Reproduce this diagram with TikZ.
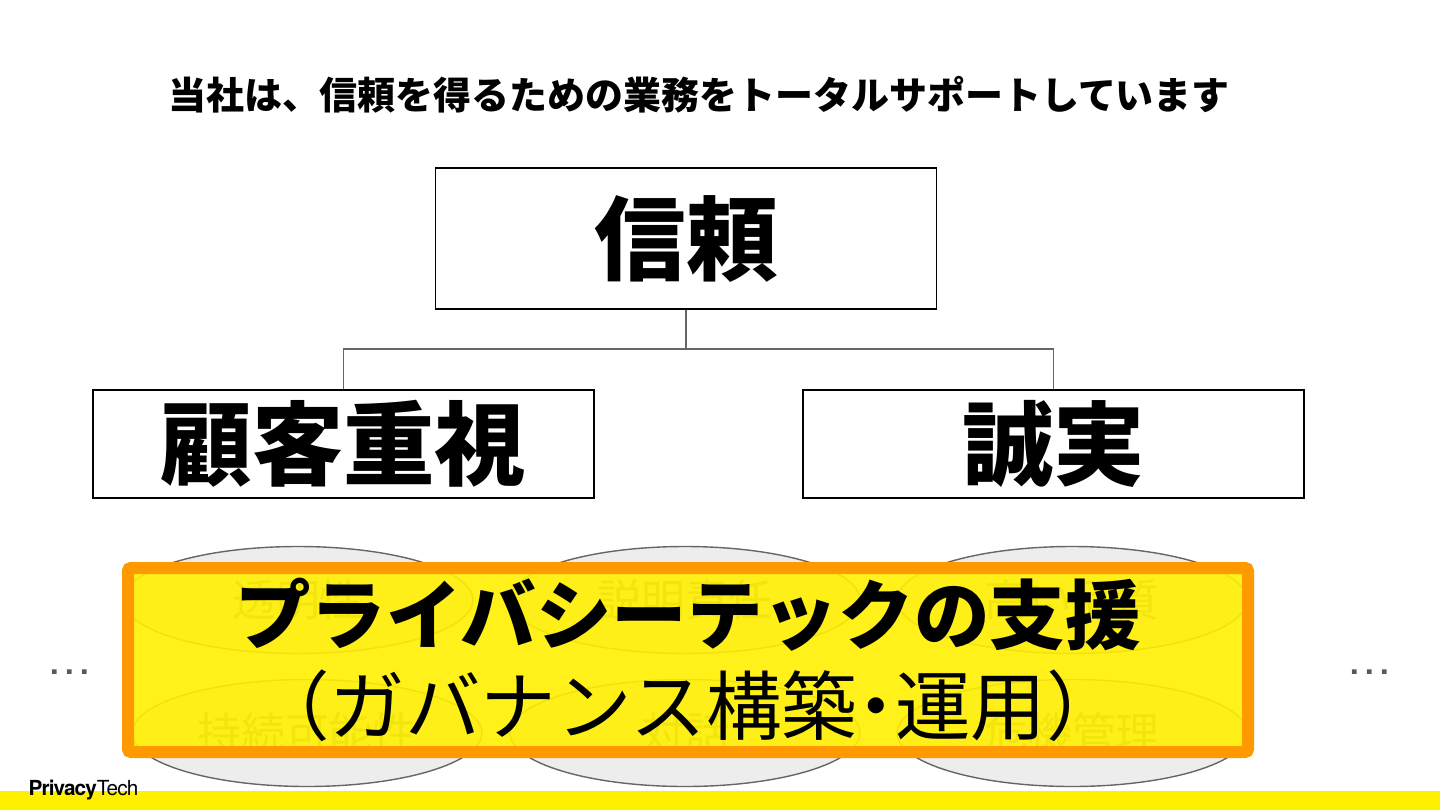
\documentclass[tikz,border=0pt]{standalone}
\usepackage{fontspec}
\setmainfont{Noto Sans CJK JP}
\newfontfamily\logofont{TeX Gyre Heros}[LetterSpace=-4.3]
\newfontfamily\dotsfont{TeX Gyre Heros}
\usepackage{xcolor}
\usetikzlibrary{shapes.geometric}
\definecolor{BandYellow}{HTML}{FFF000}
\definecolor{BoxYellow}{HTML}{FFF000}
\definecolor{BoxOrange}{HTML}{FF9900}
\definecolor{LinkGray}{HTML}{666666}
\tikzset{
ValueBox/.style={
 draw=black, 
 line width=0.3pt, 
 inner sep=0pt, 
 font=\fontsize{26}{30}\selectfont\bfseries
 },
Pillar/.style={
 ellipse, 
 draw=LinkGray, 
 line width=0.4pt, 
 fill=black!7, 
 minimum width=3.5cm, 
 minimum height=1.07cm, 
 inner sep=0pt, 
 text=black!50, 
 font=\fontsize{12.5}{15}\selectfont
 },
Link/.style={
 draw=LinkGray, 
 line width=0.4pt
 },
Dots/.style={
 text=black!65, 
 inner sep=0pt, 
 anchor=base, 
 font=\fontsize{12.8}{15}\dotsfont
 }
}
\begin{document}
\begin{tikzpicture}
\useasboundingbox (0,0) rectangle (14.4,8.1);
\fill[BandYellow] (0,0) rectangle (14.4,0.19);
\node[inner sep=0pt,font=\fontsize{10.8}{13}\selectfont\bfseries] (title) at (6.99,7.15) {当社は、信頼を得るための業務をトータルサポートしています};
\node[ValueBox,minimum width=5.01cm,minimum height=1.41cm] (trust) at (6.86,5.715) {信頼};
\node[ValueBox,minimum width=5.01cm,minimum height=1.08cm] (customer) at (3.435,3.66) {顧客重視};
\node[ValueBox,minimum width=5.01cm,minimum height=1.08cm] (honesty) at (10.535,3.66) {誠実};
\coordinate (branch) at (6.86,4.61);
\draw[Link] (trust.south) -- (branch);
\draw[Link] (branch) -| (customer.north);
\draw[Link] (branch) -| (honesty.north);
\node[Pillar] (transparency) at (2.98,2.1) {透明性};
\node[Pillar] (accountability) at (6.85,2.1) {説明責任};
\node[Pillar] (quality) at (10.72,2.1) {高い品質};
\node[Pillar] (sustainability) at (3.07,0.77) {持続可能性};
\node[Pillar] (dialogue) at (6.85,0.77) {対話};
\node[Pillar] (crisis) at (10.72,0.77) {危機管理};
\node[Dots] (dotsleft) at (0.7,1.355) {.\kern0.7pt.\kern0.7pt.};
\node[Dots] (dotsright) at (13.7,1.355) {.\kern0.7pt.\kern0.7pt.};
\node[draw=BoxOrange,line width=0.12cm,rounded corners=0.03cm,fill=BoxYellow,
 fill opacity=0.9,draw opacity=1,text opacity=1,minimum width=11.2cm,minimum height=1.84cm,
 inner sep=0pt,align=center] (support) at (6.88,1.5)
 {\fontsize{21.5}{26}\selectfont\bfseries プライバシーテックの支援\\[4.1pt]
 \fontsize{21.5}{26}\selectfont （ガバナンス構築\kern-0.25em・\kern-0.25em 運用）};
\node[inner sep=0pt,anchor=west,font=\fontsize{5.9}{7}\logofont] (logo) at (0.28,0.2) {\bfseries Privacy\mdseries Tech};
\end{tikzpicture}
\end{document}
